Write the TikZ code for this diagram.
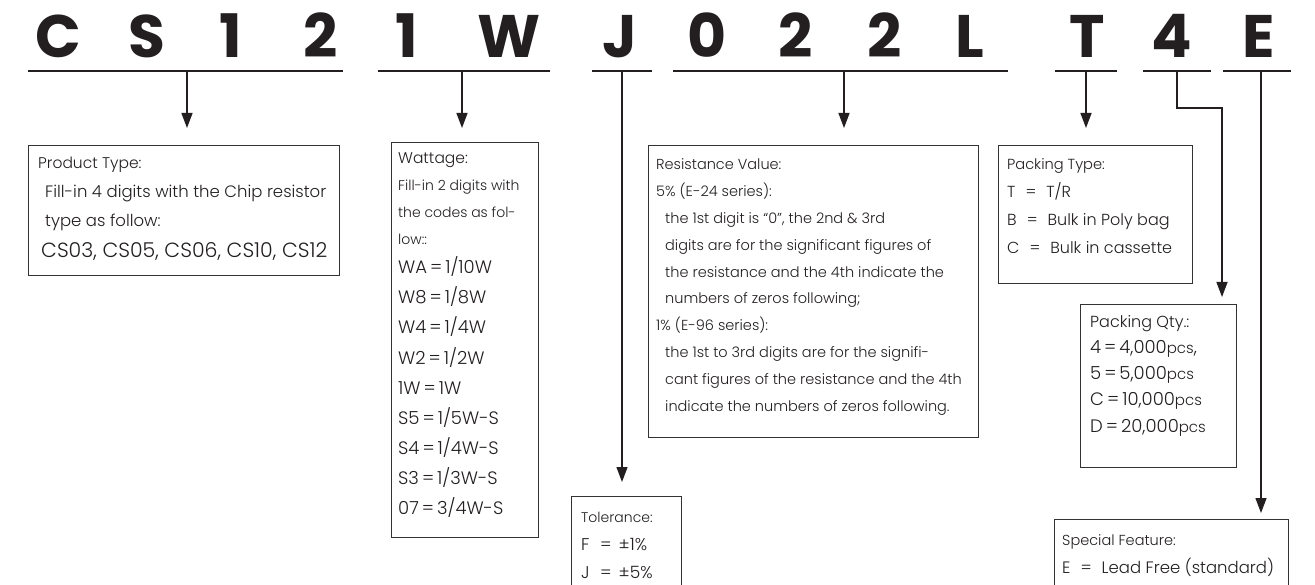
\documentclass[tikz,border=0pt]{standalone}
\usepackage{fontspec}
\setmainfont{Poppins}[UprightFont=* Light, BoldFont=* SemiBold]
\newfontfamily\headfont{Poppins}[UprightFont=* Bold]
\usetikzlibrary{arrows.meta}
\definecolor{ink}{HTML}{231F20}
\definecolor{frame}{HTML}{333333}
\newcommand{\fs}[1]{\fontsize{#1}{#1}\selectfont}
\newcommand{\eqsp}{\hspace{10pt}=\hspace{10pt}}
\tikzset{
  letter/.style={font=\headfont\fontsize{60}{60}\selectfont, text=ink, anchor=base, inner sep=0pt},
  uline/.style={draw=ink, line width=2pt},
  conn/.style={draw=ink, line width=1.3pt, -{Triangle[length=15pt,width=11pt]}},
  box/.style={draw=frame, line width=1.2pt, anchor=north west, inner sep=0pt},
  ln/.style={text=ink, anchor=base west, inner sep=0pt},
}
\begin{document}
\begin{tikzpicture}[x=1pt,y=-1pt]
\clip (0,0) rectangle (1315,585);
\fill[white] (0,0) rectangle (1315,585);

% part number characters
\node[letter] (l1)  at (58,58)   {C};
\node[letter] (l2)  at (147,58)  {S};
\node[letter] (l3)  at (231,58)  {1};
\node[letter] (l4)  at (321,58)  {2};
\node[letter] (l5)  at (407,58)  {1};
\node[letter] (l6)  at (509,58)  {W};
\node[letter] (l7)  at (620,58)  {J};
\node[letter] (l8)  at (707,58)  {0};
\node[letter] (l9)  at (796,58)  {2};
\node[letter] (l10) at (885,58)  {2};
\node[letter] (l11) at (970,58)  {L};
\node[letter] (l12) at (1087,58) {T};
\node[letter] (l13) at (1172,58) {4};
\node[letter] (l14) at (1259,58) {E};

% group underlines
\coordinate (g1w) at (28,71);   \coordinate (g1e) at (343,71);
\coordinate (g2w) at (378,71);  \coordinate (g2e) at (550,71);
\coordinate (g3w) at (592,71);  \coordinate (g3e) at (652,71);
\coordinate (g4w) at (673,71);  \coordinate (g4e) at (1008,71);
\coordinate (g5w) at (1055,71); \coordinate (g5e) at (1117,71);
\coordinate (g6w) at (1143,71); \coordinate (g6e) at (1211,71);
\coordinate (g7w) at (1223,71); \coordinate (g7e) at (1291,71);
\foreach \g in {1,...,7} {\draw[uline] (g\g w) -- (g\g e);}

% description boxes
\node[box, minimum width=311pt, minimum height=130pt] (pbox) at (28,145) {};
\node[box, minimum width=147pt, minimum height=395pt] (wbox) at (391,142) {};
\node[box, minimum width=110pt, minimum height=120pt] (tbox) at (571,496) {};
\node[box, minimum width=330pt, minimum height=292pt] (rbox) at (648,145) {};
\node[box, minimum width=194pt, minimum height=138pt] (ybox) at (998,145) {};
\node[box, minimum width=156pt, minimum height=163pt] (qbox) at (1080,304) {};
\node[box, minimum width=234pt, minimum height=100pt] (sbox) at (1054,519) {};

% product type
\node[ln, font=\fs{15.5}] (pt1) at (38,168.5) {Product Type:};
\node[ln, font=\fs{16.5}] (pt2) at (45,198) {Fill-in 4 digits with the Chip resistor};
\node[ln, font=\fs{16.5}] (pt3) at (45,227) {type as follow:};
\node[ln, font=\fs{20.5}] (pt4) at (41,258) {CS03, CS05, CS06, CS10, CS12};

% wattage
\node[ln, font=\fs{15.5}] (wt1) at (398,163.5) {Wattage:};
\node[ln, font=\fs{14}] (wt2) at (398,191) {Fill-in 2 digits with};
\node[ln, font=\fs{14}] (wt3) at (398,218) {the codes as fol-};
\node[ln, font=\fs{14}] (wt4) at (398,245) {low::};
\foreach \t [count=\i] in {WA\,=\,1/10W, W8\,=\,1/8W, W4\,=\,1/4W, W2\,=\,1/2W,
  1W\,=\,1W, S5\,=\,1/5W-S, S4\,=\,1/4W-S, S3\,=\,1/3W-S, 07\,=\,3/4W-S}
  {\node[ln, font=\fs{18}] (wc\i) at (398,{274+30*(\i-1)}) {\t};}

% tolerance
\node[ln, font=\fs{14}] (tt1) at (581,522) {Tolerance:};
\node[ln, font=\fs{17}] (tt2) at (581,550) {\makebox[19pt][l]{F}=\hspace{7pt}±1\%};
\node[ln, font=\fs{17}] (tt3) at (581,578) {\makebox[19pt][l]{J}=\hspace{7pt}±5\%};

% resistance value
\foreach \t [count=\i] in {{Resistance Value:}, {5\% (E-24 series):},
  {\hspace*{9pt}the 1st digit is “0”, the 2nd \& 3rd},
  {\hspace*{9pt}digits are for the significant figures of},
  {\hspace*{9pt}the resistance and the 4th indicate the},
  {\hspace*{9pt}numbers of zeros following;},
  {1\% (E-96 series):},
  {\hspace*{9pt}the 1st to 3rd digits are for the signifi-},
  {\hspace*{9pt}cant figures of the resistance and the 4th},
  {\hspace*{9pt}indicate the numbers of zeros following.}}
  {\node[ln, font=\fs{14.5}] (rt\i) at (656,{170+26.8*(\i-1)}) {\t};}

% packing type
\node[ln, font=\fs{14.6}] (yt1) at (1007,170) {Packing Type:};
\node[ln, font=\fs{16}] (yt2) at (1007,198) {T\eqsp T/R};
\node[ln, font=\fs{16}] (yt3) at (1007,226) {B\eqsp Bulk in Poly bag};
\node[ln, font=\fs{16}] (yt4) at (1007,254) {C\eqsp Bulk in cassette};

% packing quantity
\node[ln, font=\fs{16}] (qt1) at (1090,328) {Packing Qty.:};
\node[ln, font=\fs{18}] (qt2) at (1090,354) {4\,=\,4,000{\fs{15}pcs},};
\node[ln, font=\fs{18}] (qt3) at (1090,380) {5\,=\,5,000{\fs{15}pcs}};
\node[ln, font=\fs{18}] (qt4) at (1090,406) {C\,=\,10,000{\fs{15}pcs}};
\node[ln, font=\fs{18}] (qt5) at (1090,432) {D\,=\,20,000{\fs{15}pcs}};

% special feature
\node[ln, font=\fs{14.5}] (st1) at (1062,545) {Special Feature:};
\node[ln, font=\fs{16.5}] (st2) at (1062,573) {E\eqsp Lead Free (standard)};

% connectors from the groups to their boxes
\coordinate (a1) at (187,71);
\coordinate (a2) at (462,71);
\coordinate (a3) at (622,71);
\coordinate (a4) at (844,71);
\coordinate (a5) at (1086,71);
\coordinate (a6) at (1177,71);
\coordinate (k6) at (1222,108);
\coordinate (a7) at (1261,71);
\draw[conn, shorten >=17pt] (a1) -- (a1 |- pbox.north);
\draw[conn, shorten >=14pt] (a2) -- (a2 |- wbox.north);
\draw[conn, shorten >=14pt] (a3) -- (a3 |- tbox.north);
\draw[conn, shorten >=17pt] (a4) -- (a4 |- rbox.north);
\draw[conn, shorten >=17pt] (a5) -- (a5 |- ybox.north);
\draw[conn, shorten >=7pt]  (a6) |- (k6) -- (k6 |- qbox.north);
\draw[conn, shorten >=6pt]  (a7) -- (a7 |- sbox.north);
\end{tikzpicture}
\end{document}
